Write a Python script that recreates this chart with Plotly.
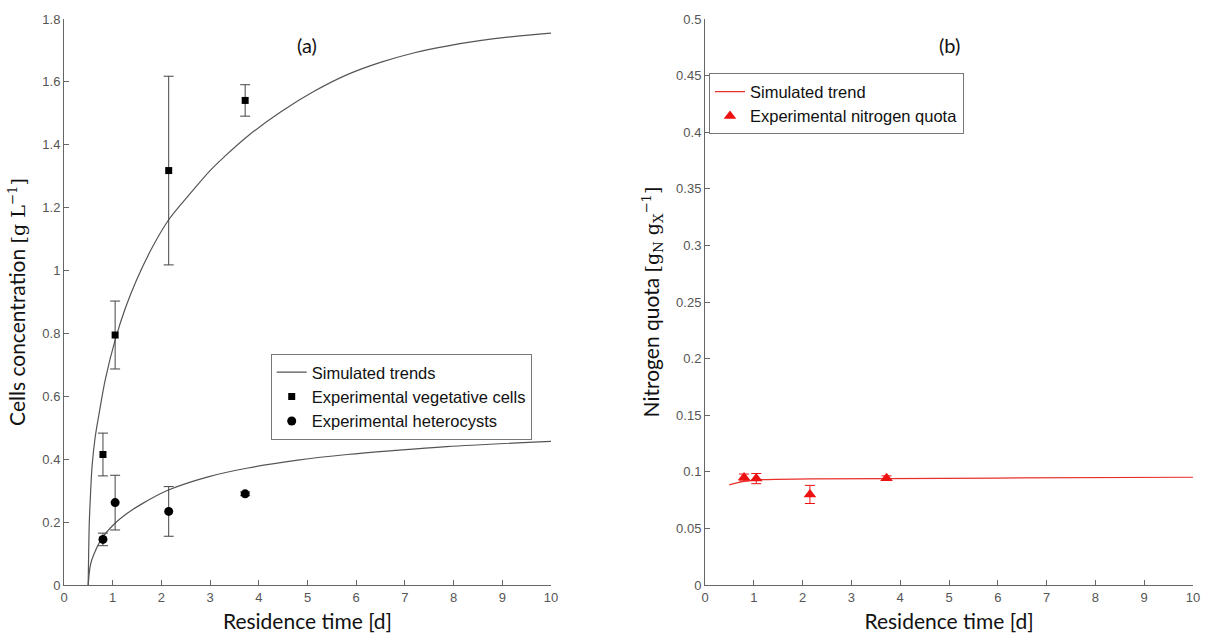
import plotly.graph_objects as go

# ---- data (a) ----
tau_sim_veg = [0.497, 0.52, 0.545, 0.578, 0.64, 0.714, 0.85, 1.054, 1.259, 1.49, 1.8, 2.143, 2.62, 3.0, 3.30,
               3.776, 4.455, 5.136, 5.816, 6.497, 7.177, 7.857, 8.537, 9.218, 10.0]
sim_veg = [0.0, 0.2, 0.29, 0.381, 0.47, 0.539, 0.655, 0.781, 0.88, 0.97, 1.07, 1.16, 1.25, 1.318, 1.363,
           1.428, 1.505, 1.570, 1.623, 1.662, 1.692, 1.714, 1.731, 1.744, 1.755]
tau_sim_het = [0.497, 0.544, 0.612, 0.782, 1.054, 1.3, 1.599, 2.143, 2.959, 3.776, 4.8, 5.816, 6.8,
               7.857, 10.0]
sim_het = [0.0, 0.065, 0.097, 0.149, 0.197, 0.228, 0.258, 0.302, 0.344, 0.372, 0.397, 0.415, 0.428,
           0.440, 0.457]

tau_exp = [0.80, 1.05, 2.15, 3.72]
veg = [0.415, 0.795, 1.318, 1.541]
veg_err = [0.068, 0.108, 0.30, 0.05]
het = [0.145, 0.262, 0.234, 0.29]
het_err = [0.02, 0.087, 0.079, 0.006]

# ---- data (b) ----
tau_sim_n = [0.496, 0.80, 1.14, 2.16, 3.73, 6.0, 10.0]
sim_n = [0.0885, 0.0915, 0.093, 0.0937, 0.094, 0.0945, 0.0952]
nq = [0.095, 0.094, 0.080, 0.0944]
nq_err = [0.003, 0.0045, 0.008, 0.002]

axis_col = "#666666"
tick_font = dict(family="Liberation Sans, Arial", size=13, color="#555555")
title_font = dict(family="Lato, Open Sans, sans-serif", size=21, color="#111111")
leg_font = dict(family="Liberation Sans, Arial", size=16.5, color="#111111")

fig = go.Figure()

# (a)
fig.add_trace(go.Scatter(x=tau_sim_veg, y=sim_veg, mode="lines", line=dict(color="#555555", width=1.2, shape="spline"),
                         name="Simulated trends", legend="legend", xaxis="x", yaxis="y"))
fig.add_trace(go.Scatter(x=tau_sim_het, y=sim_het, mode="lines", line=dict(color="#555555", width=1.2, shape="spline"),
                         name="Simulated trends", showlegend=False, xaxis="x", yaxis="y"))
fig.add_trace(go.Scatter(x=tau_exp, y=veg, mode="markers", marker=dict(symbol="square", size=7, color="black"),
                         error_y=dict(type="data", array=veg_err, color="#444444", thickness=1, width=5),
                         name="Experimental vegetative cells", legend="legend", xaxis="x", yaxis="y"))
fig.add_trace(go.Scatter(x=tau_exp, y=het, mode="markers", marker=dict(symbol="circle", size=9, color="black"),
                         error_y=dict(type="data", array=het_err, color="#444444", thickness=1, width=5),
                         name="Experimental heterocysts", legend="legend", xaxis="x", yaxis="y"))

# (b)
fig.add_trace(go.Scatter(x=tau_sim_n, y=sim_n, mode="lines", line=dict(color="#e8302a", width=1.2, shape="spline"),
                         name="Simulated trend", legend="legend2", xaxis="x2", yaxis="y2"))
fig.add_trace(go.Scatter(x=tau_exp, y=nq, mode="markers", marker=dict(symbol="triangle-up", size=11, color="#ee1111"),
                         error_y=dict(type="data", array=nq_err, color="#ee1111", thickness=1, width=5),
                         name="Experimental nitrogen quota", legend="legend2", xaxis="x2", yaxis="y2"))

W, H = 1212, 641
ml, mr, mt, mb = 64, 12, 12, 56
pw = W - ml - mr
ph = H - mt - mb

def px(p):
    return (p - ml) / pw

def py(p):
    return 1 - (p - mt) / ph

common_x = dict(range=[0, 10], dtick=1, ticks="inside", ticklen=5, tickcolor=axis_col,
                showline=True, linecolor=axis_col, linewidth=1, showgrid=False, zeroline=False,
                tickfont=tick_font, title=dict(text="Residence time [d]", font=title_font, standoff=10))
common_y = dict(ticks="inside", ticklen=5, tickcolor=axis_col, showline=True, linecolor=axis_col,
                linewidth=1, showgrid=False, zeroline=False, tickfont=tick_font)

serif = "<span style='font-family:DejaVu Serif, Liberation Serif, serif;font-size:19px'>"

fig.update_layout(
    width=W, height=H, margin=dict(l=ml, r=mr, t=mt, b=mb),
    paper_bgcolor="white", plot_bgcolor="white",
    xaxis=dict(domain=[0, px(554)], anchor="y", **common_x),
    yaxis=dict(domain=[0, 1], anchor="x", range=[0, 1.8], dtick=0.2,
               title=dict(text="Cells concentration " + serif + "[g L<sup>−1</sup>]</span>",
                          font=title_font, standoff=10), **common_y),
    xaxis2=dict(domain=[px(709), 1], anchor="y2", **common_x),
    yaxis2=dict(domain=[0, 1], anchor="x2", range=[0, 0.5], dtick=0.05,
                title=dict(text="Nitrogen quota " + serif + "[g<sub>N</sub> g<sub>X</sub><sup>−1</sup>]</span>",
                           font=title_font, standoff=10),
                **common_y),
    legend=dict(x=px(272), y=py(351), xanchor="left", yanchor="top",
                bordercolor="#777777", borderwidth=1, bgcolor="white",
                font=leg_font, tracegroupgap=0, itemwidth=30),
    legend2=dict(x=px(713), y=py(67), xanchor="left", yanchor="top",
                 bordercolor="#777777", borderwidth=1, bgcolor="white",
                 font=leg_font, tracegroupgap=0, itemwidth=30),
    annotations=[
        dict(text="(a)", x=5, xref="x", y=py(24), yref="paper", showarrow=False,
             font=dict(family="Lato, Open Sans, sans-serif", size=20, color="#111111")),
        dict(text="(b)", x=5, xref="x2", y=py(24), yref="paper", showarrow=False,
             font=dict(family="Lato, Open Sans, sans-serif", size=20, color="#111111")),
    ],
)

fig.write_html("out.html")
